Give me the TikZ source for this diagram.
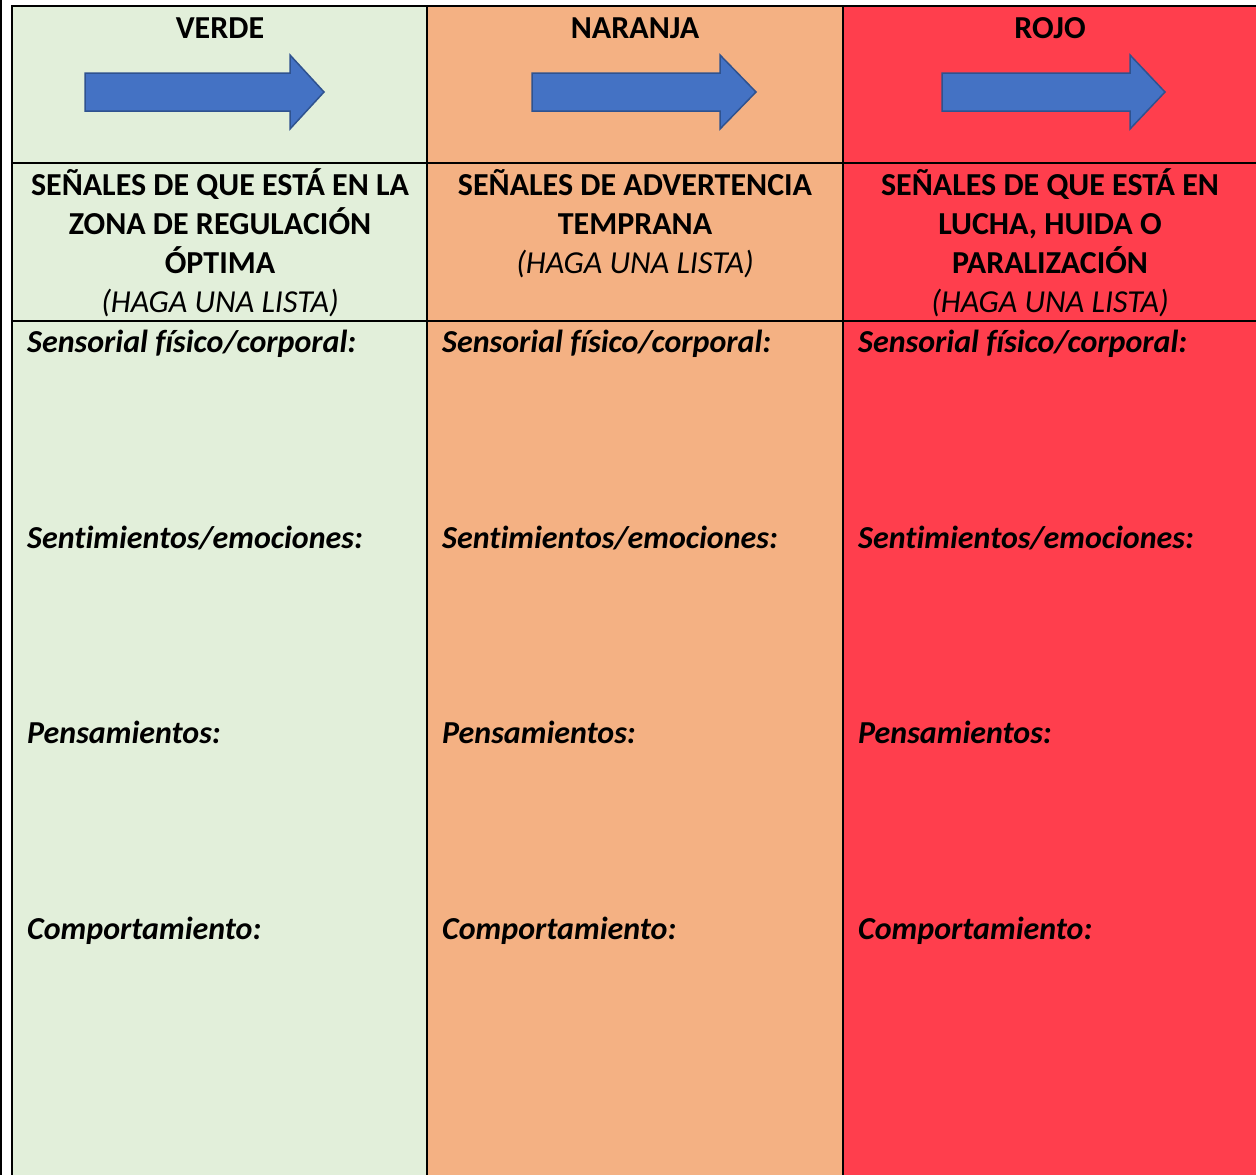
\documentclass[tikz,border=0pt]{standalone}
\usepackage{fontspec}
\setmainfont{Carlito}[Ligatures=NoCommon]

\definecolor{verde}{HTML}{E2EFDA}
\definecolor{naranja}{HTML}{F4B183}
\definecolor{rojo}{HTML}{FF3E4D}
\definecolor{azul}{HTML}{4472C4}
\definecolor{azulborde}{HTML}{2F528F}

\tikzset{
  rejilla/.style={line width=2pt, black},
  flechazul/.style={fill=azul, draw=azulborde, line width=1.5pt, line join=miter},
  titulo/.style={font=\fontsize{32}{39}\selectfont\bfseries, anchor=base, inner sep=0pt},
  senales/.style={font=\fontsize{32}{39}\selectfont\bfseries, align=center, anchor=base, inner sep=0pt},
  campo/.style={font=\fontsize{32}{39}\selectfont\bfseries\itshape, anchor=base west, inner sep=0pt}
}

\begin{document}
\begin{tikzpicture}[x=1pt, y=-1pt]
\useasboundingbox (0,0) rectangle (1256,1175);

% Column backgrounds
\fill[verde] (12,6) rectangle (427,1175);
\fill[naranja] (427,6) rectangle (843,1175);
\fill[rojo] (843,6) rectangle (1256,1175);

% Table lines
\draw[rejilla] (12,1175) -- (12,6) -- (1256,6);
\draw[rejilla] (427,6) -- (427,1175);
\draw[rejilla] (843,6) -- (843,1175);
\draw[rejilla] (12,163) -- (1256,163);
\draw[rejilla] (12,321) -- (1256,321);

% Page edge
\draw[line width=1.5pt] (0.75,0) -- (0.75,1175);

% Zone headers
\node[titulo] (verde) at (220,38) {VERDE};
\node[titulo] (naranja) at (635,38) {NARANJA};
\node[titulo] (rojo) at (1050,38) {ROJO};

% Blue arrows: tail, head base, tip
\foreach \xa/\xb/\xc in {85/290/324, 532/720/756, 942/1130/1165}
  \draw[flechazul] (\xa,73) -- (\xb,73) -- (\xb,55) -- (\xc,92)
    -- (\xb,129) -- (\xb,111) -- (\xa,111) -- cycle;

% Signs per zone (anchored at the last line)
\node[senales] (senV) at (220,312) {SEÑALES DE QUE ESTÁ EN LA\\ZONA DE REGULACIÓN\\ÓPTIMA\\{\mdseries\itshape (HAGA UNA LISTA)}};
\node[senales] (senN) at (635,273) {SEÑALES DE ADVERTENCIA\\TEMPRANA\\{\mdseries\itshape (HAGA UNA LISTA)}};
\node[senales] (senR) at (1050,312) {SEÑALES DE QUE ESTÁ EN\\LUCHA, HUIDA O\\PARALIZACIÓN\\{\mdseries\itshape (HAGA UNA LISTA)}};

% Fields to fill in
\foreach \col/\x in {V/27, N/442, R/858} {
  \node[campo] (sens\col) at (\x,352) {Sensorial físico/corporal:};
  \node[campo] (sent\col) at (\x,548) {Sentimientos/emociones:};
  \node[campo] (pens\col) at (\x,743) {Pensamientos:};
  \node[campo] (comp\col) at (\x,939) {Comportamiento:};
}

\end{tikzpicture}
\end{document}
